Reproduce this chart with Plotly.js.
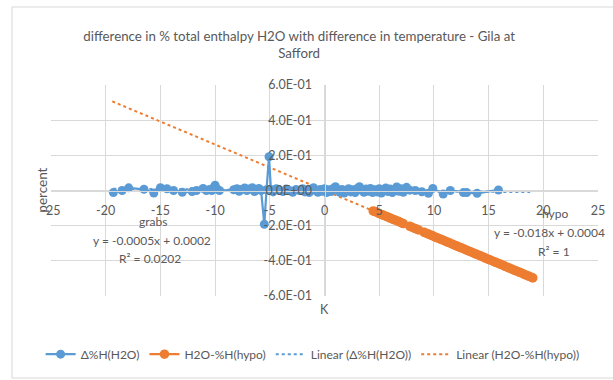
<!DOCTYPE html>
<html>
<head>
<meta charset="utf-8">
<script src="https://cdn.plot.ly/plotly-3.0.1.min.js"></script>
<style>html,body{margin:0;padding:0;background:#fff;}#chart{width:613px;height:380px;}</style>
</head>
<body>
<div id="chart"></div>
<script>
// ---- data ----
const seriesNames = ['Δ%H(H2O)', 'H2O-%H(hypo)', 'Linear (Δ%H(H2O))', 'Linear (H2O-%H(hypo))'];

const grabsX = [-19.3,-18.5,-17.9,-16.5,-15.6,-15.0,-14.4,-13.8,-13.0,-12.1,-11.7,-11.1,-10.8,-10.5,-10.3,-10.1,-10.0,-9.8,-9.6,
  -8.3,-8.0,-7.8,-7.6,-7.3,-7.1,-6.9,-6.6,-6.4,-6.2,-6.0,-5.8,-5.5,-5.3,-5.07,-4.9,-4.7,-4.4,-4.1,-3.8,-3.5,-3.2,-2.9,-2.6,-2.3,
  -2.0,-1.8,-1.6,-1.4,-1.2,-1.0,-0.8,-0.6,-0.4,-0.2,0.0,0.2,0.4,0.6,0.8,1.0,1.2,1.4,1.6,1.8,2.0,2.2,2.4,2.6,2.8,3.0,3.2,3.4,3.6,
  3.8,4.0,4.2,4.4,4.6,4.8,5.0,5.2,5.4,5.6,5.8,6.0,6.2,6.4,6.6,6.8,7.0,7.2,7.5,7.8,8.3,8.9,9.5,9.9,10.85,11.5,12.7,13.0,13.95,15.9];
const grabsY = [-0.012,0.0,0.015,0.007,-0.014,0.016,0.010,0.0,-0.010,-0.006,0.0,0.012,0.0,0.006,0.0,0.018,0.030,0.008,0.0,
  0.004,0.010,-0.004,0.006,0.014,0.0,0.008,0.016,-0.006,0.004,0.012,0.0,-0.192,0.004,0.192,0.006,-0.008,0.010,0.0,-0.006,0.008,0.0,-0.010,0.006,0.0,
  0.010,-0.008,0.004,-0.012,0.008,0.016,0.0,-0.010,0.006,-0.004,0.010,-0.012,0.004,-0.006,0.012,0.022,0.004,-0.010,0.006,-0.014,0.0,0.010,-0.008,0.004,-0.012,0.012,0.022,0.002,-0.010,
  0.008,-0.004,0.012,-0.012,0.004,-0.008,0.010,-0.014,0.004,0.014,-0.006,0.008,-0.012,0.004,0.020,-0.004,0.010,-0.010,0.018,0.002,0.0,-0.007,-0.016,0.012,-0.020,0.0,-0.012,-0.012,-0.016,0.003];

const hypoX = [4.45,4.6,4.8,5.0,5.2,5.4,5.6,5.8,6.0,6.2,6.4,6.6,6.8,7.0,7.2,7.8,8.0,8.2,8.4,8.6,9.1,9.3,9.5,9.7,9.9,10.1,10.3,10.5,10.7,10.9,
  11.1,11.3,11.5,11.7,11.9,12.1,12.3,12.5,12.7,12.9,13.1,13.3,13.5,13.7,13.9,14.1,14.3,14.5,14.7,14.9,15.1,15.3,15.5,15.7,15.9,16.1,16.3,16.5,16.7,16.9,
  17.1,17.3,17.5,17.7,17.9,18.1,18.3,18.5,18.7,18.9,19.04];
const hypoY = [-0.116,-0.120,-0.125,-0.131,-0.136,-0.141,-0.146,-0.151,-0.157,-0.162,-0.167,-0.172,-0.177,-0.183,-0.188,-0.204,-0.209,-0.214,-0.219,-0.224,
  -0.238,-0.243,-0.248,-0.253,-0.258,-0.264,-0.269,-0.274,-0.279,-0.284,-0.290,-0.295,-0.300,-0.305,-0.311,-0.316,-0.321,-0.326,-0.331,-0.337,
  -0.342,-0.347,-0.352,-0.358,-0.363,-0.368,-0.373,-0.378,-0.384,-0.389,-0.394,-0.399,-0.405,-0.410,-0.415,-0.420,-0.425,-0.431,-0.436,-0.441,
  -0.446,-0.452,-0.457,-0.462,-0.467,-0.472,-0.478,-0.483,-0.488,-0.493,-0.497];

const grabsTrendX = [-19.3, 18.8];
const grabsTrendY = [0.0099, -0.0092];
const hypoTrendX = [-19.4, 19.04];
const hypoTrendY = [0.507, -0.497];

const xTickVals = [-25,-20,-15,-10,-5,0,5,10,15,20,25];
const xTickText = ['-25','-20','-15','-10','-5','0','5','10','15','20','25'];
const yTickVals = [-0.6,-0.4,-0.2,0,0.2,0.4,0.6];
const yTickText = ['-6.0E-01','-4.0E-01','-2.0E-01','0.0E+00','2.0E-01','4.0E-01','6.0E-01'];

const titleText = 'difference in % total enthalpy H2O with difference in temperature - Gila at<br>Safford';
const grabsLabel = ['grabs', 'y = -0.0005x + 0.0002', 'R² = 0.0202'];
const hypoLabel = ['hypo', 'y = -0.018x + 0.0004', 'R² = 1'];

// ---- styling ----
const BLUE = '#5B9BD5', ORANGE = '#ED7D31', GRID = '#D9D9D9', TXT = '#595959';
const FONT = 'Lato, "Open Sans", sans-serif';

const traces = [
  {x: grabsTrendX, y: grabsTrendY, name: seriesNames[2], type: 'scatter', mode: 'lines', legendrank: 3,
   line: {color: BLUE, width: 2, dash: 'dot'}},
  {x: hypoTrendX, y: hypoTrendY, name: seriesNames[3], type: 'scatter', mode: 'lines', legendrank: 4,
   line: {color: ORANGE, width: 2, dash: 'dot'}},
  {x: grabsX, y: grabsY, name: seriesNames[0], type: 'scatter', mode: 'lines+markers', legendrank: 1,
   line: {color: BLUE, width: 2.25}, marker: {color: BLUE, size: 9}},
  {x: hypoX, y: hypoY, name: seriesNames[1], type: 'scatter', mode: 'lines+markers', legendrank: 2,
   line: {color: ORANGE, width: 2.25}, marker: {color: ORANGE, size: 9.5}}
];

function ann(text, x, y, extra) {
  return Object.assign({text: text, x: x, y: y, xref: 'paper', yref: 'paper', showarrow: false,
    xanchor: 'center', yanchor: 'middle',
    font: {family: FONT, size: 12, color: TXT}}, extra || {});
}

const layout = {
  width: 613, height: 380,
  margin: {l: 51, r: 15, t: 85, b: 84, autoexpand: false},
  paper_bgcolor: '#fff', plot_bgcolor: '#fff',
  font: {family: FONT, color: TXT, size: 11},
  title: {text: titleText, x: 0.488, xref: 'container', xanchor: 'center', y: 0.893, yref: 'container', yanchor: 'middle',
    font: {family: FONT, size: 13.3, color: TXT}},
  showlegend: true,
  legend: {orientation: 'h', x: 0.51, xanchor: 'center', xref: 'container', y: 0.068, yref: 'container', yanchor: 'middle',
    font: {family: FONT, size: 12, color: TXT}, traceorder: 'normal', itemwidth: 30, tracegroupgap: 0},
  xaxis: {range: [-25, 25], tickvals: xTickVals, ticktext: xTickText, showgrid: true, gridcolor: GRID, gridwidth: 1,
    zeroline: false, showline: true, linecolor: GRID, linewidth: 1, anchor: 'free', position: 0.5,
    ticks: '', ticklabelstandoff: 8, tickfont: {family: FONT, size: 12.5, color: TXT}, fixedrange: true},
  yaxis: {range: [-0.6, 0.6], tickvals: yTickVals, ticktext: yTickText, showgrid: true, gridcolor: GRID, gridwidth: 1,
    zeroline: false, showline: true, linecolor: GRID, linewidth: 1, anchor: 'free', position: 0.5,
    ticks: '', ticklabelstandoff: 10, tickfont: {family: FONT, size: 12.5, color: TXT}, fixedrange: true},
  annotations: [
    ann('percent', -0.018, 0.5, {textangle: -90, font: {family: FONT, size: 13.5, color: TXT}}),
    ann('K', 0.5, -0.066, {font: {family: FONT, size: 12.5, color: TXT}}),
    ann(grabsLabel[0], 0.1865, 0.355),
    ann(grabsLabel[1], 0.1846, 0.261),
    ann(grabsLabel[2], 0.181, 0.180),
    ann(hypoLabel[0], 0.921, 0.389),
    ann(hypoLabel[1], 0.912, 0.299),
    ann(hypoLabel[2], 0.920, 0.213)
  ],
  shapes: [
    {type: 'rect', xref: 'paper', yref: 'paper', x0: -0.0713, x1: 1.06, y0: -0.3886, y1: 1.3697,
     line: {color: GRID, width: 1}, fillcolor: 'rgba(0,0,0,0)', layer: 'below'}
  ]
};

Plotly.newPlot('chart', traces, layout, {displayModeBar: false, staticPlot: true});
</script>
</body>
</html>
